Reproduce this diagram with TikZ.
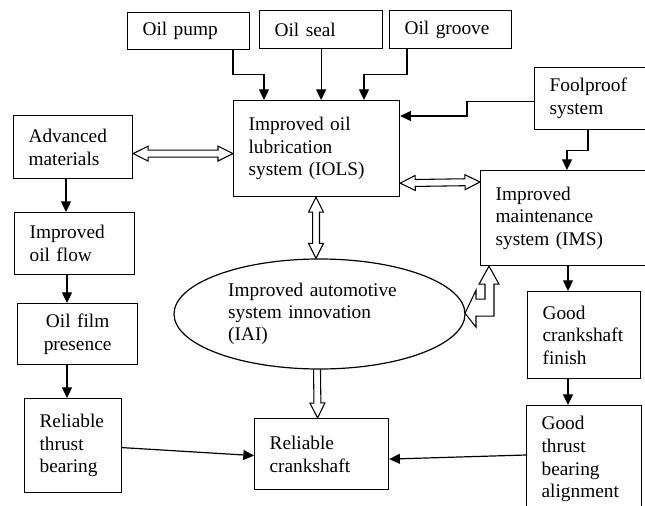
\documentclass[tikz,border=0pt]{standalone}
\usepackage{fontspec}
\setmainfont{Liberation Serif}
\usetikzlibrary{calc,arrows.meta,shapes.geometric}
\def\hl{11.25pt}
\def\hw{5.6pt}
\def\sw{2.6pt}
\newcommand\dblhollow[2]{%
  \draw[hollow] (#1) -- ($(#1)!\hl!(#2)!\hw!90:(#2)$) -- ($(#1)!\hl!(#2)!\sw!90:(#2)$)
   -- ($(#2)!\hl!(#1)!\sw!-90:(#1)$) -- ($(#2)!\hl!(#1)!\hw!-90:(#1)$) -- (#2)
   -- ($(#2)!\hl!(#1)!\hw!90:(#1)$) -- ($(#2)!\hl!(#1)!\sw!90:(#1)$)
   -- ($(#1)!\hl!(#2)!\sw!-90:(#2)$) -- ($(#1)!\hl!(#2)!\hw!-90:(#2)$) -- cycle;}
\newcommand\snglhollow[2]{%
  \draw[hollow] ($(#1)!\sw!90:(#2)$) -- ($(#2)!\hl!(#1)!\sw!-90:(#1)$)
   -- ($(#2)!\hl!(#1)!\hw!-90:(#1)$) -- (#2)
   -- ($(#2)!\hl!(#1)!\hw!90:(#1)$) -- ($(#2)!\hl!(#1)!\sw!90:(#1)$)
   -- ($(#1)!\sw!-90:(#2)$);}
\tikzset{
  box/.style={draw, rectangle, line width=0.9pt, anchor=north west, align=left,
    inner xsep=11.25pt, inner ysep=2pt,
    font=\fontsize{14.5pt}{17pt}\selectfont},
  arr/.style={draw, line width=0.9pt, -{Triangle[length=8pt,width=7.5pt]}},
  hollow/.style={draw, line width=0.8pt, line join=miter},
}
\begin{document}
\begin{tikzpicture}[x=0.75pt,y=-0.75pt]
\useasboundingbox (0,0) rectangle (645,506);
\fill[white] (0,0) rectangle (645,506);
\clip (0,0) rectangle (645,506);

% boxes
\node[box, minimum width=91.5pt, minimum height=27.75pt, text width=69pt] (pump) at (127,12) {Oil pump};
\node[box, minimum width=92.25pt, minimum height=28.5pt, text width=69.75pt] (seal) at (259,10) {Oil seal};
\node[box, minimum width=91.5pt, minimum height=28.5pt, text width=69pt] (groove) at (389,10) {Oil groove};
\node[box, minimum width=124.5pt, minimum height=72pt, text width=102pt] (iols) at (233,100) {Improved oil\\lubrication\\system (IOLS)};
\node[box, minimum width=87pt, minimum height=46.5pt, text width=64.5pt] (fool) at (534,67) {Foolproof\\system};
\node[box, minimum width=89.25pt, minimum height=47.25pt, text width=66.75pt] (am) at (13,115) {Advanced\\materials};
\node[box, minimum width=90pt, minimum height=46.5pt, text width=67.5pt] (iof) at (14,212) {Improved\\oil flow};
\node[box, minimum width=90pt, minimum height=45.75pt, text width=67.5pt, align=center] (ofp) at (17,303) {Oil film\\presence};
\node[box, minimum width=72.75pt, minimum height=70.5pt, text width=50.25pt] (rtb) at (24,398) {Reliable\\thrust\\bearing};
\node[box, minimum width=127.5pt, minimum height=71.25pt, text width=105pt] (ims) at (480,170) {Improved\\maintenance\\system (IMS)};
\node[box, minimum width=84.75pt, minimum height=65.25pt, text width=62.25pt] (gcf) at (527,291) {Good\\crankshaft\\finish};
\node[box, minimum width=85.5pt, minimum height=80.25pt, text width=63.75pt] (gtb) at (526,405) {Good\\thrust\\bearing\\alignment};
\node[box, minimum width=100.5pt, minimum height=53.25pt, text width=78pt] (rc) at (254,418) {Reliable\\crankshaft};
\node[draw, ellipse, line width=0.9pt, minimum width=218.25pt, minimum height=82.5pt, inner sep=0pt,
  text width=137pt, align=left, font=\fontsize{14.5pt}{16.5pt}\selectfont] (iai) at (319.5,314)
  {Improved automotive\\system innovation\\(IAI)};

% solid connectors
\draw[arr] (pump.south -| iols.west) -- ++(0,24) -| ($(iols.north west)+(31,0)$);
\draw[arr] (seal.south) -- (seal.south |- iols.north);
\draw[arr] ($(groove.south west)+(18,0)$) -- ++(0,25) -| ($(iols.north west)+(131,0)$);
\draw[arr] ($(fool.west)+(0,3)$) -- ++(-67,0) |- ($(iols.north east)+(0,16)$);
\draw[arr] ($(fool.south west)+(54,0)$) -- ++(0,20) -| ($(ims.north west)+(87,0)$);
\draw[arr] ($(ims.south west)+(88,0)$) -- ($(gcf.north west)+(41,0)$);
\draw[arr] ($(gcf.south west)+(41,0)$) -- ($(gtb.north west)+(42,0)$);
\draw[arr] ($(gtb.north west)+(0,50)$) -- ($(rc.east)+(0,5)$);
\draw[arr] ($(rtb.east)+(0,2)$) -- ($(rc.west)+(0,1.5)$);
\draw[arr] ($(am.south west)+(53,0)$) -- ($(iof.north west)+(52,0)$);
\draw[arr] ($(iof.south west)+(53,0)$) -- ($(ofp.north west)+(50,0)$);
\draw[arr] ($(ofp.south west)+(50,0)$) -- ($(rtb.north west)+(43,0)$);

% hollow connectors
\coordinate (h1a) at ($(am.east)+(0,6.5)$);
\coordinate (h1b) at ($(iols.west)+(0,5)$);
\dblhollow{h1a}{h1b}
\coordinate (h2a) at ($(iols.south east)+(0,-14)$);
\coordinate (h2b) at ($(ims.north west)+(0,12)$);
\dblhollow{h2a}{h2b}
\coordinate (h3a) at ($(iols.south west)+(83,0)$);
\coordinate (h3b) at ($(iai.north)+(-3.5,0)$);
\dblhollow{h3a}{h3b}
\coordinate (h4a) at ($(iai.south)+(-2.5,0)$);
\coordinate (h4b) at ($(rc.north)+(-4,0)$);
\snglhollow{h4a}{h4b}
\draw[hollow] ($(ims.south west)+(9,0)$) -- ++(10,18) -- ++(-5,0) -- ++(0,32) -- ++(-18,0)
  -- ++(0,11) -- ++(-11,-14) -- ++(11,-23) -- ++(0,9) -- ++(9,0) -- ++(0,-15) -- ++(-6,0) -- cycle;
\end{tikzpicture}
\end{document}
